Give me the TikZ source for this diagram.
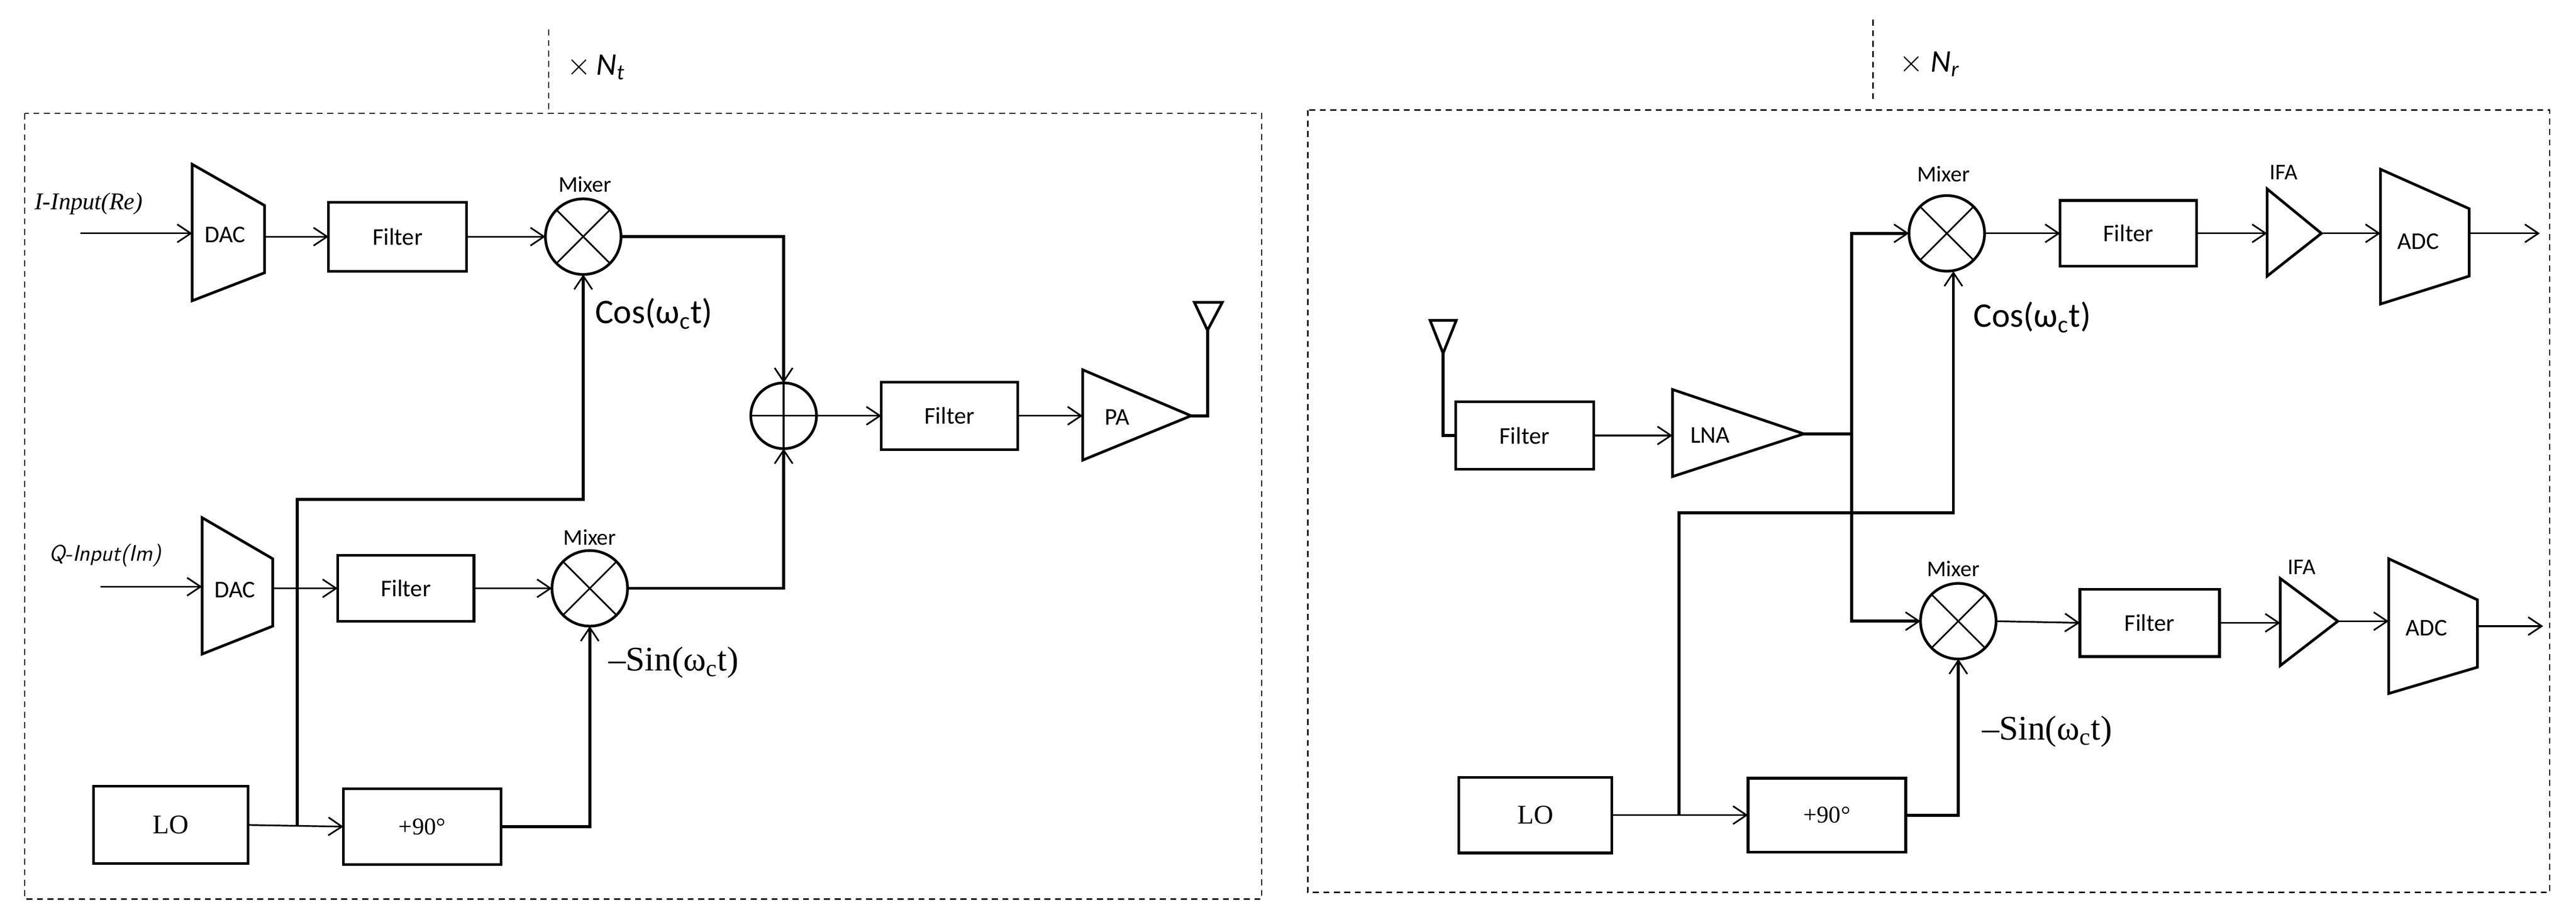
\documentclass[tikz,border=0pt]{standalone}
\usepackage{fontspec}
\setmainfont{Carlito}
\newfontfamily\tms{Liberation Serif}
\usetikzlibrary{arrows.meta}
\def\uu{0.03851cm}
\begin{document}
\begin{tikzpicture}[x=0.03851cm,y=-0.03851cm,
  box/.style={draw,line width=1.8pt,inner sep=0pt,outer sep=0pt},
  mix/.style={draw,circle,line width=1.8pt,minimum size={46*\uu},inner sep=0pt,outer sep=0pt},
  arr/.style={line width=1.1pt,-{Straight Barb[length=9pt,width=12pt,line width=1.1pt]}},
  ln/.style={line width=1.1pt},
  bold/.style={line width=2pt},
  shp/.style={line width=1.8pt,line join=miter},
  dsh/.style={line width=0.9pt,dash pattern=on 4pt off 3pt},
  lab/.style={font=\fontsize{16}{16}\selectfont},
  mlab/.style={font=\fontsize{15}{15}\selectfont},
  big/.style={font=\fontsize{23}{23}\selectfont}]
\useasboundingbox (0,0) rectangle (1568,561);
% ---------------- dashed frames
\draw[dsh] (15,69) rectangle (768,547);
\draw[dsh] (334,18) -- (334,69);
\node[anchor=west,font=\fontsize{21}{21}\selectfont] (nt) at (342,41) {$\times$\,\textit{N}\textsubscript{\textit{t}}};
\draw[dsh] (796,67) rectangle (1552,543);
\draw[dsh] (1140,12) -- (1140,63);
\node[anchor=west,font=\fontsize{21}{21}\selectfont] (nr) at (1153,39) {$\times$\ \textit{N}\textsubscript{\textit{r}}};
% ================= TRANSMITTER
\node[font=\tms\itshape\fontsize{16}{16}\selectfont] (iin) at (54,124) {I-Input(Re)};
\coordinate (iinS) at (49,142);
\draw[shp] (117,100) -- (161,125) -- (161,166) -- (117,183) -- cycle;
\node[lab] (dac1) at (137,143) {DAC};
\coordinate (dac1in) at (117,142);
\coordinate (dac1out) at (161,144);
\node[box,minimum width={84*\uu},minimum height={42*\uu},lab] (f1) at (242,144) {Filter};
\node[mix] (m1) at (355,144) {};
\draw[ln] (m1.north west) -- (m1.south east) (m1.north east) -- (m1.south west);
\node[mlab] (mx1) at (356,112) {Mixer};
\draw[arr] (iinS) -- (dac1in);
\draw[arr] (dac1out) -- (f1.west);
\draw[arr] (f1.east) -- (m1.west);

\node[font=\sffamily\itshape\fontsize{15}{15}\selectfont] (qin) at (64,338) {Q-Input(Im)};
\coordinate (qinS) at (61,357);
\draw[shp] (123,315) -- (166,340) -- (166,381) -- (123,398) -- cycle;
\node[lab] (dac2) at (143,359) {DAC};
\coordinate (dac2in) at (123,357);
\coordinate (dac2out) at (166,358);
\node[box,minimum width={83*\uu},minimum height={40*\uu},lab] (f3) at (247,358) {Filter};
\node[mix] (m2) at (359,358) {};
\draw[ln] (m2.north west) -- (m2.south east) (m2.north east) -- (m2.south west);
\node[mlab] (mx2) at (359,327) {Mixer};
\draw[arr] (qinS) -- (dac2in);
\draw[arr] (dac2out) -- (f3.west);
\draw[arr] (f3.east) -- (m2.west);

\node[mix,minimum size={40*\uu}] (s) at (477,253) {};
\draw[ln] (s.north) -- (s.south) (s.west) -- (s.east);
\draw[arr,bold] (m1.east) -| (s.north);
\draw[arr,bold] (m2.east) -| (s.south);
\node[box,minimum width={83*\uu},minimum height={41*\uu},lab] (f2) at (578,253) {Filter};
\draw[shp] (659,225) -- (725,253) -- (659,280) -- cycle;
\coordinate (pain) at (659,253);
\coordinate (paout) at (725,253);
\node[lab] (pa) at (680,254) {PA};
\draw[arr] (s.east) -- (f2.west);
\draw[arr] (f2.east) -- (pain);
\coordinate (antL) at (735,201);
\draw[bold] (paout) -| (antL);
\draw[shp] (727,184) -- (744,184) -- (antL) -- cycle;

\node[box,minimum width={94*\uu},minimum height={47*\uu},font=\tms\fontsize{18}{18}\selectfont] (lo1) at (104,502) {LO};
\node[box,minimum width={96*\uu},minimum height={46*\uu},font=\tms\fontsize{16}{16}\selectfont] (p1) at (257,503) {+90°};
\draw[arr] (lo1.east) -- (p1.west);
\coordinate (j1) at (181,502);
\coordinate (c1) at (355,304);
\draw[arr,bold] (j1) |- (c1) -- (m1.south);
\draw[arr,bold] (p1.east) -| (m2.south);
\node[big] (cos1) at (398,191) {Cos(ω\textsubscript{c}t)};
\node[big,font=\tms\fontsize{23}{23}\selectfont] (sin1) at (410,403) {–Sin(ω\textsubscript{c}t)};
% ================= RECEIVER
\coordinate (antR) at (878.4,215);
\draw[shp] (870.5,195) -- (886.4,195) -- (antR) -- cycle;
\node[box,minimum width={84*\uu},minimum height={41*\uu},lab] (r1) at (928,265) {Filter};
\draw[bold] (antR) |- (r1.west);
\draw[shp] (1018,237) -- (1098,264) -- (1018,290) -- cycle;
\coordinate (lnain) at (1018,265);
\coordinate (lnaout) at (1098,264);
\node[lab] (lna) at (1041,265) {LNA};
\draw[arr] (r1.east) -- (lnain);
\coordinate (br) at (1127,264);
\draw[bold] (lnaout) -- (br);
\node[mix] (mr1) at (1185,142) {};
\draw[ln] (mr1.north west) -- (mr1.south east) (mr1.north east) -- (mr1.south west);
\node[mlab] (mxr1) at (1183,106) {Mixer};
\node[mix] (mr2) at (1192,378) {};
\draw[ln] (mr2.north west) -- (mr2.south east) (mr2.north east) -- (mr2.south west);
\node[mlab] (mxr2) at (1189,346) {Mixer};
\draw[arr,bold] (br) |- (mr1.west);
\draw[arr,bold] (br) |- (mr2.west);

\node[box,minimum width={83*\uu},minimum height={40*\uu},lab] (r2) at (1295.5,142) {Filter};
\draw[shp] (1380,115) -- (1413,142) -- (1380,168) -- cycle;
\coordinate (ifa1in) at (1380,142);
\coordinate (ifa1out) at (1413,142);
\node[mlab] (ifa1) at (1390,105) {IFA};
\draw[shp] (1449,103) -- (1503,127) -- (1503,168) -- (1449,185) -- cycle;
\coordinate (adc1in) at (1449,142);
\coordinate (adc1out) at (1503,142);
\node[lab] (adc1) at (1472,147) {ADC};
\coordinate (o1) at (1546,142);
\draw[arr] (mr1.east) -- (r2.west);
\draw[arr] (r2.east) -- (ifa1in);
\draw[arr] (ifa1out) -- (adc1in);
\draw[arr] (adc1out) -- (o1);

\node[box,minimum width={85*\uu},minimum height={41*\uu},lab] (r3) at (1308.5,379) {Filter};
\draw[shp] (1388,352) -- (1423,378) -- (1388,405) -- cycle;
\coordinate (ifa2in) at (1388,379);
\coordinate (ifa2out) at (1423,378);
\node[mlab] (ifa2) at (1401,345) {IFA};
\draw[shp] (1454,340) -- (1508,365) -- (1508,406) -- (1454,422) -- cycle;
\coordinate (adc2in) at (1454,378);
\coordinate (adc2out) at (1508,381);
\node[lab] (adc2) at (1477,382) {ADC};
\coordinate (o2) at (1548,381);
\draw[arr] (mr2.east) -- (r3.west);
\draw[arr] (r3.east) -- (ifa2in);
\draw[arr] (ifa2out) -- (adc2in);
\draw[arr] (adc2out) -- (o2);

\node[box,minimum width={93*\uu},minimum height={46*\uu},font=\tms\fontsize{18}{18}\selectfont] (lo2) at (934.5,496) {LO};
\node[box,minimum width={96*\uu},minimum height={45*\uu},font=\tms\fontsize{16}{16}\selectfont] (p2) at (1112,496) {+90°};
\draw[arr] (lo2.east) -- (p2.west);
\coordinate (j2) at (1022,496);
\coordinate (c2) at (1189,312);
\draw[arr,bold] (j2) |- (c2) -- (c2 |- mr1.south);
\draw[arr,bold] (p2.east) -| (mr2.south);
\node[big] (cos2) at (1237,193) {Cos(ω\textsubscript{c}t)};
\node[big,font=\tms\fontsize{23}{23}\selectfont] (sin2) at (1246,445) {–Sin(ω\textsubscript{c}t)};
\end{tikzpicture}
\end{document}
